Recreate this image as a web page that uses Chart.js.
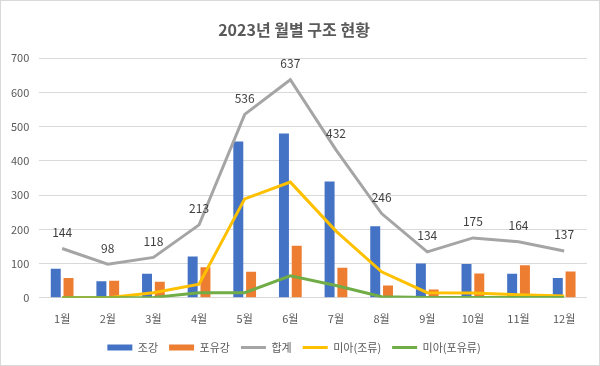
<!DOCTYPE html>
<html>
<head>
<meta charset="utf-8">
<script src="https://cdn.jsdelivr.net/npm/chart.js@4.4.0/dist/chart.umd.min.js"></script>
<style>
    html, body { margin: 0; padding: 0; background: #fff; }
    .wrap { width: 598px; height: 364px; border: 1px solid #d9d9d9; }
</style>
</head>
<body>
<div class="wrap"><canvas id="chart" width="598" height="364"></canvas></div>
<script>
// 월 라벨
const months = ['1월', '2월', '3월', '4월', '5월', '6월', '7월', '8월', '9월', '10월', '11월', '12월'];

// 시리즈 값
const jogang = [85, 48, 70, 121, 457, 480, 340, 209, 100, 99, 70, 58];
const poyugang = [58, 50, 47, 89, 76, 152, 88, 36, 24, 71, 95, 77];
const total = [144, 98, 118, 213, 536, 637, 432, 246, 134, 175, 164, 137];
const orphanBird = [0, 0, 15, 40, 289, 338, 195, 76, 15, 14, 9, 5];
const orphanMammal = [0, 0, 1, 15, 15, 64, 36, 3, 1, 1, 1, 1];

const yTicks = [0, 100, 200, 300, 400, 500, 600, 700];

const FONT = '"Noto Sans CJK KR", "Noto Sans", sans-serif';
const TEXT = '#595959';

// 합계 라인 위에 값 표시
const totalLabels = {
    id: 'totalLabels',
    afterDatasetsDraw(chart) {
        const meta = chart.getDatasetMeta(2);
        const ctx = chart.ctx;
        ctx.save();
        ctx.font = '12px ' + FONT;
        ctx.fillStyle = '#404040';
        ctx.textAlign = 'center';
        ctx.textBaseline = 'middle';
        meta.data.forEach((pt, i) => {
            ctx.fillText(String(total[i]), pt.x, pt.y - 16);
        });
        ctx.restore();
    }
};

const lineDs = (label, data, color, order) => ({
    type: 'line',
    label: label,
    data: data,
    borderColor: color,
    backgroundColor: color,
    borderWidth: 3,
    pointRadius: 0,
    pointStyle: 'line',
    tension: 0,
    order: order
});

const ctx = document.getElementById('chart').getContext('2d');
new Chart(ctx, {
    type: 'bar',
    data: {
        labels: months,
        datasets: [
            {
                label: '조강',
                data: jogang,
                backgroundColor: '#4472C4',
                pointStyle: 'rect',
                categoryPercentage: 0.56,
                barPercentage: 0.78,
                order: 4
            },
            {
                label: '포유강',
                data: poyugang,
                backgroundColor: '#ED7D31',
                pointStyle: 'rect',
                categoryPercentage: 0.56,
                barPercentage: 0.78,
                order: 5
            },
            lineDs('합계', total, '#A5A5A5', 3),
            lineDs('미아(조류)', orphanBird, '#FFC000', 2),
            lineDs('미아(포유류)', orphanMammal, '#70AD47', 1)
        ]
    },
    options: {
        responsive: false,
        animation: false,
        layout: { padding: { left: 0, right: 12, top: 13, bottom: 2 } },
        plugins: {
            title: {
                display: true,
                text: '2023년 월별 구조 현황',
                color: TEXT,
                font: { family: FONT, size: 16, weight: 'bold' },
                padding: { top: 6, bottom: 19 }
            },
            legend: {
                position: 'bottom',
                labels: {
                    color: TEXT,
                    font: { family: FONT, size: 11 },
                    usePointStyle: true,
                    pointStyleWidth: 25,
                    boxHeight: 6,
                    padding: 11,
                    sort: (a, b) => a.datasetIndex - b.datasetIndex
                }
            },
            tooltip: { enabled: false }
        },
        scales: {
            x: {
                grid: { display: false },
                border: { display: false },
                ticks: { color: TEXT, font: { family: FONT, size: 11 }, padding: 6 }
            },
            y: {
                min: 0,
                max: 700,
                afterBuildTicks: (axis) => { axis.ticks = yTicks.map(v => ({ value: v })); },
                grid: { color: '#d9d9d9', drawTicks: false },
                border: { display: false },
                ticks: { color: TEXT, font: { family: FONT, size: 11 }, padding: 10 }
            }
        }
    },
    plugins: [totalLabels]
});
</script>
</body>
</html>
